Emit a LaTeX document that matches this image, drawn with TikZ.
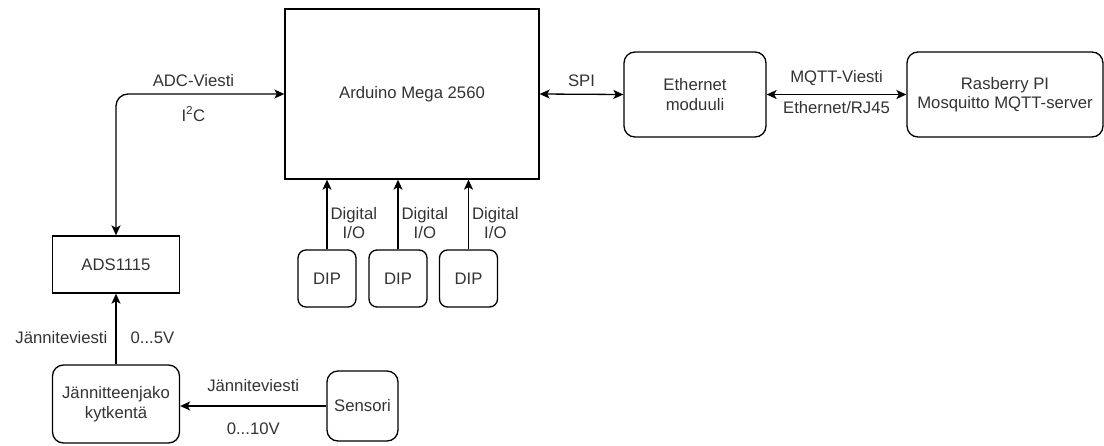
\documentclass[tikz,border=0pt]{standalone}
\usepackage{fontspec}
\setmainfont{Liberation Sans}
\usetikzlibrary{arrows.meta}

\begin{document}
\begin{tikzpicture}[x=1pt,y=-1pt,
  font=\fontsize{16.7}{19.5}\selectfont,
  blk/.style={draw, line width=1.3pt, text=black!80, align=center, inner sep=0pt},
  rblk/.style={blk, rounded corners=11pt},
  lbl/.style={text=black!80, inner sep=2pt, align=center},
  arr/.style={line width=1.3pt, -{Stealth[length=10pt,width=9pt,inset=2.5pt]}},
  biarr/.style={line width=1.3pt, {Stealth[length=10pt,width=9pt,inset=2.5pt]}-{Stealth[length=10pt,width=9pt,inset=2.5pt]}}]
\useasboundingbox (0,0) rectangle (1104,445);

% Main blocks
\node[blk, minimum width=254, minimum height=170] (ard) at (412,94) {Arduino Mega 2560};
\node[rblk, minimum width=142, minimum height=85] (eth) at (695,94.5) {Ethernet\\moduuli};
\node[rblk, minimum width=196, minimum height=85] (rpi) at (1005,94.5) {Rasberry PI\\Mosquitto MQTT-server};

% Analog side
\node[blk, minimum width=127, minimum height=57] (ads) at (116,264.5) {ADS1115};
\node[rblk, minimum width=127, minimum height=78] (jako) at (116,404) {Jännitteenjako\\kytkentä};
\node[rblk, minimum width=71, minimum height=70] (sens) at (362.5,406) {Sensori};

% Network links
\draw[biarr] (ard.east) -- (eth.west) node[lbl, midway, above=5pt] (spi) {SPI};
\draw[biarr] (eth.east) -- (rpi.west)
  node[lbl, midway, above=6pt] (mqtt) {MQTT-Viesti}
  node[lbl, midway, below=4pt] (rj45) {Ethernet/RJ45};

% I2C bus
\draw[biarr, rounded corners=12pt] (ard.west) -| (ads.north)
  node[lbl, pos=0.27, above=5pt] (adc) {ADC-Viesti}
  node[lbl, pos=0.27, below=10pt] (i2c) {I\textsuperscript{2}C};

% Voltage divider chain
\draw[arr] (jako.north) -- (ads.south)
  node[lbl, pos=0.38, left=6pt] (jv1) {Jänniteviesti}
  node[lbl, pos=0.38, right=12pt] (v5) {0...5V};
\draw[arr] (sens.west) -- (sens.west -| jako.east)
  node[lbl, midway, above=12pt] (jv2) {Jänniteviesti}
  node[lbl, midway, below=14pt] (v10) {0...10V};

% DIP switches
\foreach \i/\x in {1/327,2/398,3/468.5}{
  \node[rblk, rounded corners=8pt, minimum width=58, minimum height=57] (dip\i) at (\x,278.5) {DIP};
  \draw[arr] (dip\i.north) -- (dip\i.north |- ard.south)
    node[lbl, pos=0.38, right=1pt] (dio\i) {Digital\\I/O};
}
\end{tikzpicture}
\end{document}
